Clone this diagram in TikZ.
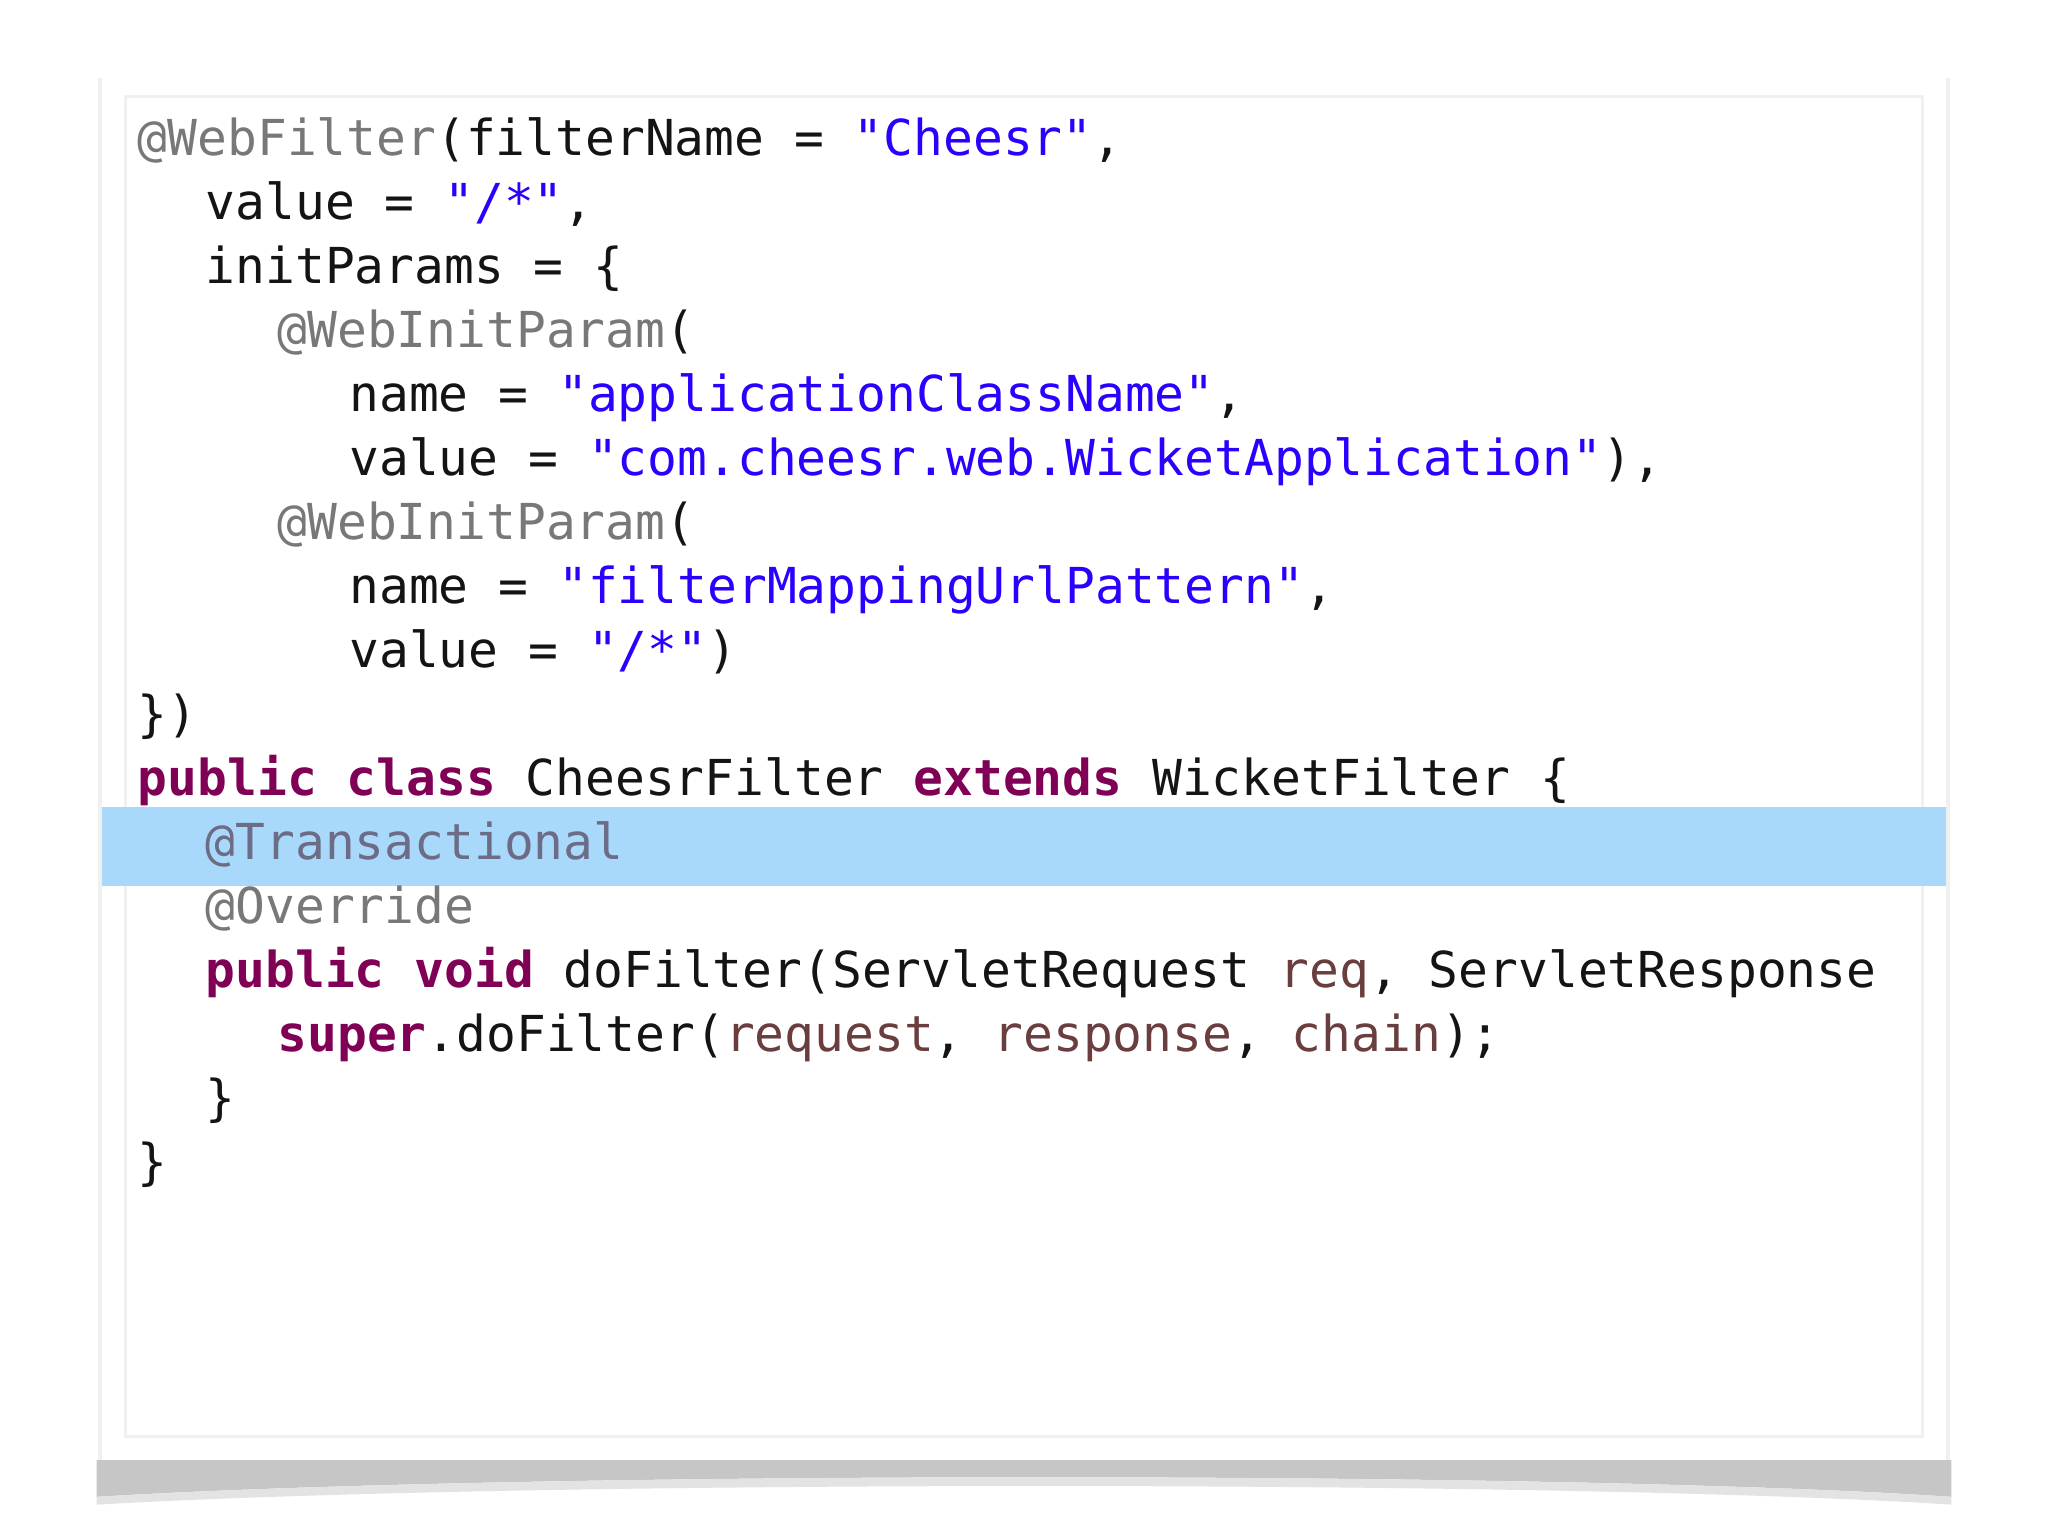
\documentclass[tikz,border=0pt]{standalone}
\usepackage{fontspec}
\setmonofont{DejaVu Sans Mono}
\definecolor{ann}{RGB}{120,120,120}
\definecolor{str}{RGB}{42,0,255}
\definecolor{kw}{RGB}{127,0,85}
\definecolor{var}{RGB}{106,62,62}
\definecolor{hl}{RGB}{168,216,250}
\definecolor{txt}{RGB}{20,20,20}
\tikzset{code/.style={anchor=base west,inner sep=0pt,font=\ttfamily\fontsize{14.1}{16}\selectfont,text=txt}}
\newcommand{\A}[1]{\textcolor{ann}{#1}}
\newcommand{\Sg}[1]{\textcolor{str}{#1}}
\newcommand{\K}[1]{\textcolor{kw}{#1}}
\newcommand{\V}[1]{\textcolor{var}{#1}}
\begin{document}
\begin{tikzpicture}[x=0.01306cm,y=-0.01306cm]
\useasboundingbox (0,0) rectangle (1568,1176);
\fill[white] (0,0) rectangle (1568,1176);
% shadow
\fill[gray!12] (75,60) rectangle (1493,1120);
\fill[gray!45] (74,1118) -- (1494,1118) -- (1494,1146) .. controls (1200,1126) and (400,1126) .. (74,1146) -- cycle;
\fill[gray!22] (74,1146) .. controls (400,1126) and (1200,1126) .. (1494,1146) -- (1494,1152) .. controls (1200,1133) and (400,1133) .. (74,1152) -- cycle;
\fill[white] (78,58) rectangle (1490,1118);
\draw[gray!12,line width=1pt] (96,74) rectangle (1472,1100);
\fill[hl] (78,618) rectangle (1490,678);
\begin{scope}
\clip (78,58) rectangle (1472,1100);
\node[code] (l1) at (105,119) {\A{@WebFilter}(filterName = \Sg{"Cheesr"},};
\node[code] (l2) at (157,168) {value = \Sg{"/*"},};
\node[code] (l3) at (157,217) {initParams = \{};
\node[code] (l4) at (212,266) {\A{@WebInitParam}(};
\node[code] (l5) at (267,315) {name = \Sg{"applicationClassName"},};
\node[code] (l6) at (267,364) {value = \Sg{"com.cheesr.web.WicketApplication"}),};
\node[code] (l7) at (212,413) {\A{@WebInitParam}(};
\node[code] (l8) at (267,462) {name = \Sg{"filterMappingUrlPattern"},};
\node[code] (l9) at (267,511) {value = \Sg{"/*"})};
\node[code] (l10) at (105,560) {\})};
\node[code] (l11) at (105,609) {\K{\bfseries public class} CheesrFilter \K{\bfseries extends} WicketFilter \{};
\node[code] (l12) at (157,658) {\textcolor{ann!90!blue}{@Transactional}};
\node[code] (l13) at (157,707) {\A{@Override}};
\node[code] (l14) at (157,756) {\K{\bfseries public void} doFilter(ServletRequest \V{req}, ServletResponse};
\node[code] (l15) at (212,805) {\K{\bfseries super}.doFilter(\V{request}, \V{response}, \V{chain});};
\node[code] (l16) at (157,854) {\}};
\node[code] (l17) at (105,903) {\}};
\end{scope}
\end{tikzpicture}
\end{document}
